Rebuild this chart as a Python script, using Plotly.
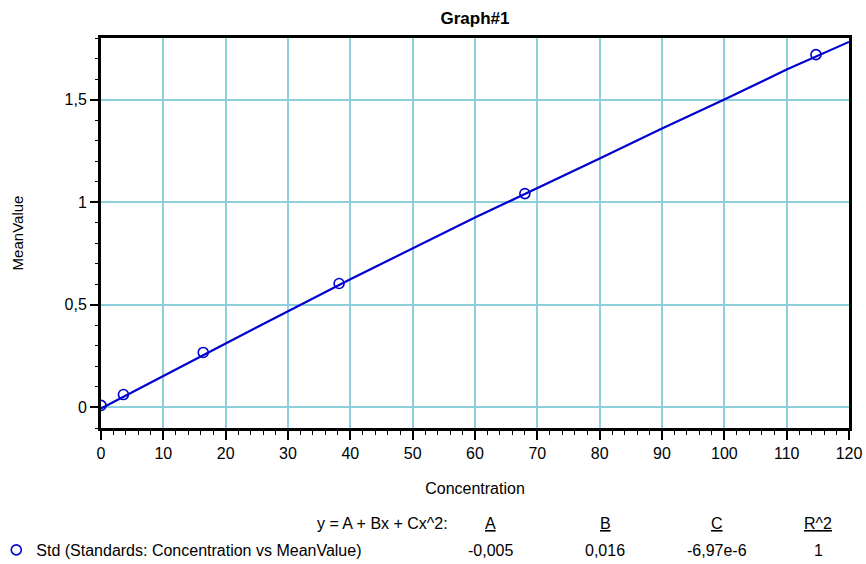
import plotly.graph_objects as go

# Standards
conc = [0.0, 3.6, 16.4, 38.2, 68.0, 114.7]
mean_value = [0.01, 0.063, 0.268, 0.604, 1.042, 1.719]

# Fitted curve
fit_x = [0, 10, 20, 40, 60, 80, 90, 100, 110, 120]
fit_y = [-0.005, 0.155, 0.312, 0.625, 0.925, 1.213, 1.359, 1.500, 1.646, 1.781]

x_ticks = list(range(0, 121, 10))
y_ticks = [0, 0.5, 1, 1.5]

coef_names = ["A", "B", "C", "R^2"]
coef_values = ["-0,005", "0,016", "-6,97e-6", "1"]
series_name = "Std (Standards: Concentration vs MeanValue)"

BLUE = "#0000D0"
GRID = "#8DCFDD"
FONT = "Liberation Sans, Arial, sans-serif"

W, H = 866, 564
L, T, PW, PH = 101, 38, 748, 390

fig = go.Figure()
fig.add_trace(go.Scatter(x=fit_x, y=fit_y, mode="lines",
                         line=dict(color=BLUE, width=2.2), showlegend=False,
                         hoverinfo="skip"))
fig.add_trace(go.Scatter(x=conc, y=mean_value, mode="markers", name=series_name,
                         marker=dict(symbol="circle-open", size=10, color=BLUE,
                                     line=dict(width=1.6, color=BLUE))))

fig.update_layout(
    width=W, height=H,
    margin=dict(l=L, r=W - L - PW, t=T, b=H - T - PH, autoexpand=False),
    paper_bgcolor="white", plot_bgcolor="white",
    separators=", ",
    font=dict(family=FONT, size=16, color="black"),
    title=dict(text="<b>Graph#1</b>", x=475 / W, xanchor="center",
               y=1 - 18 / H, yanchor="middle", font=dict(size=17)),
    showlegend=True,
    legend=dict(x=-0.1400, xanchor="left", y=(428 - 550) / 390, yanchor="middle",
                font=dict(size=16), bgcolor="rgba(0,0,0,0)", itemwidth=30),
    xaxis=dict(range=[0, 120], tickvals=x_ticks, showgrid=True, gridcolor=GRID,
               gridwidth=1.5, zeroline=False, showline=True, linecolor="black",
               linewidth=3, mirror=True, ticks="outside", ticklen=9, tickwidth=1.5,
               tickcolor="black", tickfont=dict(size=16),
               minor=dict(dtick=2, tick0=0, ticks="outside", ticklen=4, tickwidth=1,
                          tickcolor="black", showgrid=False),
               title=dict(text="Concentration", font=dict(size=16), standoff=22)),
    yaxis=dict(range=[-0.1, 1.8], tickvals=y_ticks, showgrid=True, gridcolor=GRID,
               gridwidth=1.5, zeroline=False, showline=True, linecolor="black",
               linewidth=3, mirror=True, ticks="outside", ticklen=8, tickwidth=1.5,
               tickcolor="black", tickfont=dict(size=16),
               minor=dict(dtick=0.1, tick0=0, ticks="outside", ticklen=3, tickwidth=1,
                          tickcolor="black", showgrid=False),
               title=dict(text="MeanValue", font=dict(size=15), standoff=38)),
)

annots = []
annots.append(dict(text="y = A + Bx + Cx^2:", x=450, y=523, xanchor="right"))
col_x = [490, 605, 717, 818]
for cx, nm, val in zip(col_x, coef_names, coef_values):
    annots.append(dict(text="<u>" + nm + "</u>", x=cx, y=523, xanchor="center"))
    annots.append(dict(text=val, x=cx, y=550, xanchor="center"))
for a in annots:
    fig.add_annotation(text=a["text"], xref="paper", yref="paper",
                       x=(a["x"] - L) / PW, y=(T + PH - a["y"]) / PH,
                       xanchor=a["xanchor"], yanchor="middle", showarrow=False,
                       font=dict(size=16, family=FONT, color="black"))

fig.write_html(
    "out.html",
    config={"displayModeBar": False},
    post_script="document.body.style.margin='0';document.body.style.overflow='hidden';",
)
